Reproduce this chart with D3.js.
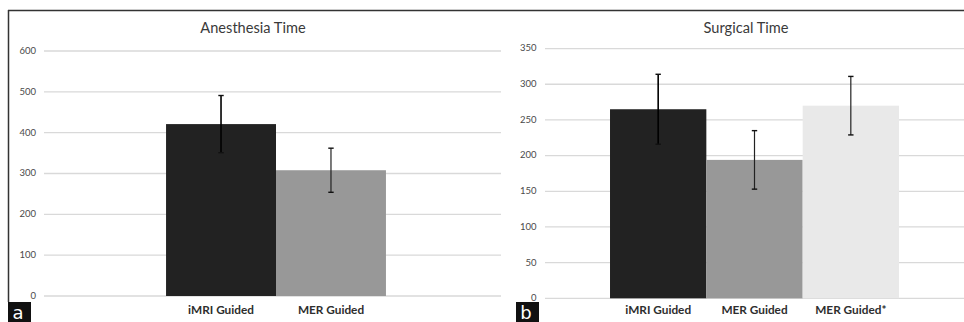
<!DOCTYPE html>
<html>
<head>
<meta charset="utf-8">
<script src="https://cdn.jsdelivr.net/npm/d3@7"></script>
<style>
  html, body { margin: 0; padding: 0; background: #fff; }
  svg { display: block; }
</style>
</head>
<body>
<svg id="chart" width="964" height="322"></svg>
<script>
// ---- data ----
const anesthesiaCategories = ["iMRI Guided", "MER Guided"];
const anesthesiaMeans = [421, 308];
const anesthesiaErrors = [70, 54];
const anesthesiaTicks = [0, 100, 200, 300, 400, 500, 600];

const surgicalCategories = ["iMRI Guided", "MER Guided", "MER Guided*"];
const surgicalMeans = [265, 194, 270];
const surgicalErrors = [49, 41, 41];
const surgicalTicks = [0, 50, 100, 150, 200, 250, 300, 350];

const anesthesiaColors = ["#222222", "#989898"];
const surgicalColors = ["#222222", "#989898", "#e9e9e9"];

const svg = d3.select("#chart");
const FONT = "Lato, 'Open Sans', sans-serif";

function panel(cfg) {
  const g = svg.append("g");
  const y = d3.scaleLinear().domain([0, cfg.ticks[cfg.ticks.length - 1]]).range([cfg.bottom, cfg.top]);
  const x = d3.scaleBand().domain(cfg.categories).range([cfg.left, cfg.right])
    .paddingInner(0).paddingOuter(cfg.outer);

  // gridlines
  g.selectAll("line.grid").data(cfg.ticks).join("line")
    .attr("x1", cfg.left).attr("x2", cfg.gridRight)
    .attr("y1", d => y(d)).attr("y2", d => y(d))
    .attr("stroke", "#d9d9d9").attr("stroke-width", 1.3);

  // y axis labels via d3 axis
  const yAxis = d3.axisLeft(y).tickValues(cfg.ticks).tickSize(0).tickPadding(0);
  const ya = g.append("g").attr("transform", `translate(${cfg.labelRight},0)`).call(yAxis);
  ya.select(".domain").remove();
  ya.selectAll("text").attr("font-family", FONT).attr("font-size", 9.5).attr("fill", "#4a4a4a")
    .attr("dy", "0.25em");

  // bars
  g.selectAll("rect.bar").data(cfg.means).join("rect")
    .attr("x", (d, i) => x(cfg.categories[i]))
    .attr("width", x.bandwidth())
    .attr("y", d => y(d))
    .attr("height", d => y(0) - y(d))
    .attr("fill", (d, i) => cfg.colors[i]);

  // error bars
  const eb = g.selectAll("g.err").data(cfg.means).join("g");
  eb.append("line")
    .attr("x1", (d, i) => x(cfg.categories[i]) + x.bandwidth() / 2)
    .attr("x2", (d, i) => x(cfg.categories[i]) + x.bandwidth() / 2)
    .attr("y1", (d, i) => y(d + cfg.errors[i]))
    .attr("y2", (d, i) => y(d - cfg.errors[i]))
    .attr("stroke", (d, i) => i === 0 ? "#000" : "#222").attr("stroke-width", (d, i) => i === 0 ? 1.6 : 1.2);
  [1, -1].forEach(s => {
    eb.append("line")
      .attr("x1", (d, i) => x(cfg.categories[i]) + x.bandwidth() / 2 - 2.7)
      .attr("x2", (d, i) => x(cfg.categories[i]) + x.bandwidth() / 2 + 2.7)
      .attr("y1", (d, i) => y(d + s * cfg.errors[i]))
      .attr("y2", (d, i) => y(d + s * cfg.errors[i]))
      .attr("stroke", "#111").attr("stroke-width", 1.4);
  });

  // x axis labels
  const xAxis = d3.axisBottom(x).tickSize(0).tickPadding(0);
  const xa = g.append("g").attr("transform", `translate(0,${cfg.labelY})`).call(xAxis);
  xa.select(".domain").remove();
  xa.selectAll("text").attr("font-family", FONT).attr("font-weight", 700)
    .attr("font-size", 11.8).attr("fill", "#2e2e2e").attr("dy", 0);

  // title
  g.append("text").attr("x", cfg.titleX).attr("y", 32.5).attr("text-anchor", "middle")
    .attr("font-family", FONT).attr("font-size", 14.6).attr("fill", "#3a3a3a").text(cfg.title);

  // panel letter
  g.append("rect").attr("x", cfg.letterX).attr("y", 302).attr("width", 23).attr("height", 20).attr("fill", "#111");
  g.append("text").attr("x", cfg.letterX + 10).attr("y", 318.5).attr("text-anchor", "middle")
    .attr("font-family", "'DejaVu Sans', sans-serif").attr("font-size", 18).attr("fill", "#fff").text(cfg.letter);
}

// frame
svg.append("line").attr("x1", 8).attr("x2", 964).attr("y1", 10.5).attr("y2", 10.5).attr("stroke", "#333").attr("stroke-width", 1.5);
svg.append("line").attr("x1", 8.5).attr("x2", 8.5).attr("y1", 10).attr("y2", 302).attr("stroke", "#333").attr("stroke-width", 1.5);

panel({
  categories: anesthesiaCategories, means: anesthesiaMeans, errors: anesthesiaErrors,
  ticks: anesthesiaTicks, colors: anesthesiaColors,
  left: 44, right: 508, gridRight: 501, outer: 1.11, top: 51, bottom: 296,
  labelRight: 36, labelY: 314, title: "Anesthesia Time", titleX: 253,
  letter: "a", letterX: 8
});

panel({
  categories: surgicalCategories, means: surgicalMeans, errors: surgicalErrors,
  ticks: surgicalTicks, colors: surgicalColors,
  left: 545, right: 964, gridRight: 964, outer: 0.675, top: 48.6, bottom: 298.3,
  labelRight: 536.5, labelY: 314, title: "Surgical Time", titleX: 746,
  letter: "b", letterX: 516
});
</script>
</body>
</html>
